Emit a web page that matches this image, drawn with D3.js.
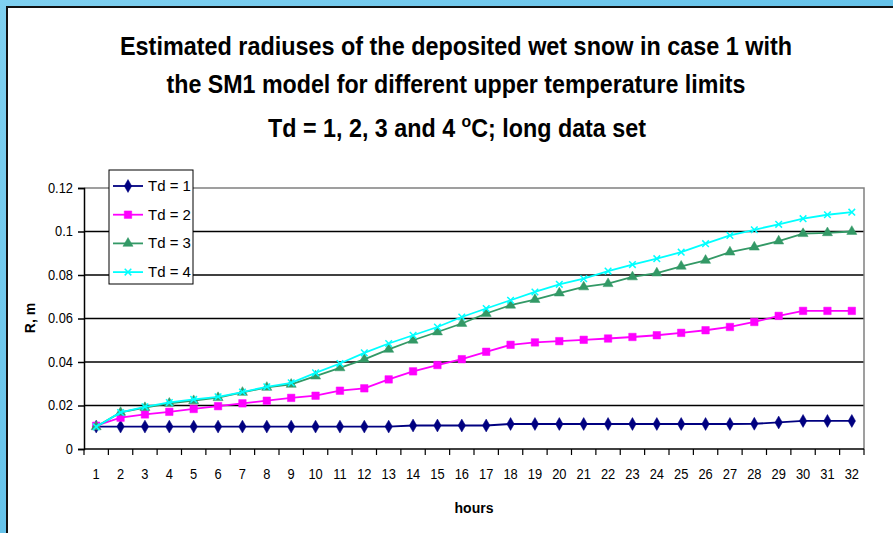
<!DOCTYPE html>
<html>
<head>
<meta charset="utf-8">
<script src="https://cdn.jsdelivr.net/npm/d3@7"></script>
<style>
  html, body { margin: 0; padding: 0; background: #6ec7ec; }
  svg { display: block; }
  text { font-family: "Liberation Sans", Arial, sans-serif; }
</style>
</head>
<body>
<svg id="chart" width="893" height="533"></svg>
<script>
// Hours on the category axis
const hours = d3.range(1, 33).map(String);

// Estimated deposited wet-snow radius R (m) for each upper temperature limit
const td1 = [0.0103, 0.0103, 0.0103, 0.0103, 0.0103, 0.0103, 0.0103, 0.0103,
             0.0103, 0.0103, 0.0103, 0.0103, 0.0103, 0.0108, 0.0108, 0.0108,
             0.0108, 0.0115, 0.0115, 0.0115, 0.0115, 0.0115, 0.0115, 0.0115,
             0.0115, 0.0115, 0.0115, 0.0116, 0.0122, 0.0129, 0.0129, 0.0129];
const td2 = [0.0107, 0.0144, 0.0159, 0.0171, 0.0184, 0.0197, 0.0210, 0.0222,
             0.0235, 0.0245, 0.0268, 0.0279, 0.0320, 0.0357, 0.0386, 0.0413,
             0.0447, 0.0479, 0.0490, 0.0496, 0.0502, 0.0508, 0.0515, 0.0523,
             0.0534, 0.0546, 0.0561, 0.0584, 0.0612, 0.0635, 0.0635, 0.0635];
const td3 = [0.0102, 0.0168, 0.0190, 0.0210, 0.0222, 0.0236, 0.0260, 0.0283,
             0.0297, 0.0335, 0.0373, 0.0412, 0.0458, 0.0500, 0.0538, 0.0577,
             0.0623, 0.0661, 0.0687, 0.0717, 0.0745, 0.0760, 0.0791, 0.0809,
             0.0840, 0.0867, 0.0905, 0.0928, 0.0956, 0.0990, 0.0994, 0.1000];
const td4 = [0.0102, 0.0168, 0.0194, 0.0214, 0.0228, 0.0240, 0.0262, 0.0286,
             0.0304, 0.0350, 0.0393, 0.0442, 0.0485, 0.0523, 0.0561, 0.0607,
             0.0646, 0.0684, 0.0722, 0.0757, 0.0783, 0.0818, 0.0848, 0.0875,
             0.0905, 0.0944, 0.0982, 0.1008, 0.1033, 0.1059, 0.1077, 0.1089];

const seriesNames = ["Td = 1", "Td = 2", "Td = 3", "Td = 4"];
const yTicks = [0, 0.02, 0.04, 0.06, 0.08, 0.1, 0.12];
const titleLines = [
  "Estimated radiuses of the deposited wet snow in case 1 with",
  "the SM1 model for different upper temperature limits"
];

const series = [
  { name: seriesNames[0], values: td1, color: "#000080", symbol: d3.symbolDiamond, size: 48, kind: "fill" },
  { name: seriesNames[1], values: td2, color: "#ff00ff", symbol: d3.symbolSquare, size: 56, kind: "fill" },
  { name: seriesNames[2], values: td3, color: "#339966", symbol: d3.symbolTriangle, size: 44, kind: "fill" },
  { name: seriesNames[3], values: td4, color: "#00ffff", symbol: d3.symbolX, size: 30, kind: "stroke" }
];

const svg = d3.select("#chart");

// Background and white chart panel
const defs = svg.append("defs");
const grad = defs.append("linearGradient").attr("id", "bg")
  .attr("x1", 0).attr("y1", 0).attr("x2", 1).attr("y2", 1);
grad.append("stop").attr("offset", 0).attr("stop-color", "#7fd0f0");
grad.append("stop").attr("offset", 0.5).attr("stop-color", "#66c3ea");
grad.append("stop").attr("offset", 1).attr("stop-color", "#74caee");
svg.append("rect").attr("width", 893).attr("height", 533).attr("fill", "url(#bg)");
svg.append("rect").attr("x", 7).attr("y", 7).attr("width", 900).attr("height", 540)
  .attr("fill", "#ffffff").attr("stroke", "#111111").attr("stroke-width", 2);

// Title: tall, condensed bold lines
const title = svg.append("g").attr("font-weight", "bold").attr("fill", "#000")
  .attr("text-anchor", "middle").attr("font-size", 25);
title.append("text").attr("x", 456).attr("y", 55)
  .attr("textLength", 672).attr("lengthAdjust", "spacingAndGlyphs").text(titleLines[0]);
title.append("text").attr("x", 456).attr("y", 93)
  .attr("textLength", 579).attr("lengthAdjust", "spacingAndGlyphs").text(titleLines[1]);
const t3 = title.append("text").attr("x", 0).attr("y", 0);
t3.append("tspan").text("Td = 1, 2, 3 and 4 ");
t3.append("tspan").attr("font-size", 17).attr("dy", -10).text("o");
t3.append("tspan").attr("dy", 10).text("C; long data set");
const w3 = t3.node().getComputedTextLength();
t3.attr("transform", `translate(457,137) scale(${378 / w3},1)`);

// Scales
const plot = { left: 84, right: 864, top: 188, bottom: 449 };
const x = d3.scaleBand().domain(hours).range([plot.left, plot.right]).padding(0);
const y = d3.scaleLinear().domain([0, 0.12]).range([plot.bottom, plot.top]);
const cx = h => x(h) + x.bandwidth() / 2;

// Gridlines
svg.append("g").selectAll("line").data(yTicks.filter(v => v > 0 && v < 0.12)).join("line")
  .attr("x1", plot.left).attr("x2", plot.right)
  .attr("y1", d => y(d)).attr("y2", d => y(d))
  .attr("stroke", "#000").attr("stroke-width", 1.5);

// Plot area border (top and right)
svg.append("path")
  .attr("d", `M${plot.left},${y(0.12)}H${plot.right}V${plot.bottom}`)
  .attr("fill", "none").attr("stroke", "#808080").attr("stroke-width", 1.5);

// Y axis
const yAxis = svg.append("g").attr("transform", `translate(${plot.left},0)`)
  .call(d3.axisLeft(y).tickValues(yTicks).tickSize(6).tickPadding(5)
    .tickFormat(d => String(+d.toFixed(2))));
yAxis.select(".domain").attr("stroke", "#000").attr("stroke-width", 1.5);
yAxis.selectAll(".tick line").attr("stroke", "#000").attr("stroke-width", 1.5);
yAxis.selectAll(".tick text").attr("font-size", 14).attr("fill", "#000")
  .attr("font-family", "'Liberation Sans', Arial, sans-serif")
  .attr("transform", "scale(0.92,1)").attr("x", -11 / 0.92);

// X axis: ticks on category boundaries
const xAxis = svg.append("g").attr("transform", `translate(0,${plot.bottom})`);
xAxis.append("line").attr("x1", plot.left).attr("x2", plot.right)
  .attr("stroke", "#000").attr("stroke-width", 1.5);
const bounds = hours.map(h => x(h)).concat([plot.right]);
xAxis.selectAll("line.tk").data(bounds).join("line").attr("class", "tk")
  .attr("x1", d => d).attr("x2", d => d).attr("y1", 0).attr("y2", 6)
  .attr("stroke", "#000").attr("stroke-width", 1.2);
xAxis.selectAll("text").data(hours).join("text")
  .attr("transform", d => `translate(${cx(d)},30) scale(0.92,1)`)
  .attr("text-anchor", "middle")
  .attr("font-size", 14).attr("fill", "#000").text(d => d);

// Axis titles
svg.append("text").attr("x", 474).attr("y", 513).attr("text-anchor", "middle")
  .attr("font-size", 14).attr("font-weight", "bold").text("hours");
svg.append("text").attr("transform", "translate(35,318) rotate(-90)")
  .attr("text-anchor", "middle").attr("font-size", 14).attr("font-weight", "bold").text("R, m");

// Lines and markers
const line = d3.line().x((d, i) => cx(hours[i])).y(d => y(d));
const drawMarker = (sel, s) => {
  sel.attr("d", d3.symbol(s.symbol, s.size))
    .attr("fill", s.kind === "fill" ? s.color : "none")
    .attr("stroke", s.color)
    .attr("stroke-width", s.kind === "fill" ? 0.5 : 1.5);
};
series.forEach(s => {
  const g = svg.append("g");
  g.append("path").datum(s.values).attr("d", line)
    .attr("fill", "none").attr("stroke", s.color).attr("stroke-width", 1.8);
  g.selectAll("path.m").data(s.values).join("path").attr("class", "m")
    .attr("transform", (d, i) => `translate(${cx(hours[i])},${y(d)})`)
    .call(drawMarker, s);
});

// Legend
const legend = svg.append("g");
legend.append("rect").attr("x", 109).attr("y", 170).attr("width", 84).attr("height", 114)
  .attr("fill", "#fff").attr("stroke", "#000").attr("stroke-width", 1);
series.forEach((s, i) => {
  const ly = 186 + i * 28.7;
  legend.append("line").attr("x1", 113).attr("x2", 143).attr("y1", ly).attr("y2", ly)
    .attr("stroke", s.color).attr("stroke-width", 1.8);
  legend.append("path").attr("transform", `translate(128,${ly})`).call(drawMarker, s);
  legend.append("text").attr("x", 148).attr("y", ly + 5).attr("font-size", 15)
    .attr("fill", "#000").text(s.name);
});
</script>
</body>
</html>
